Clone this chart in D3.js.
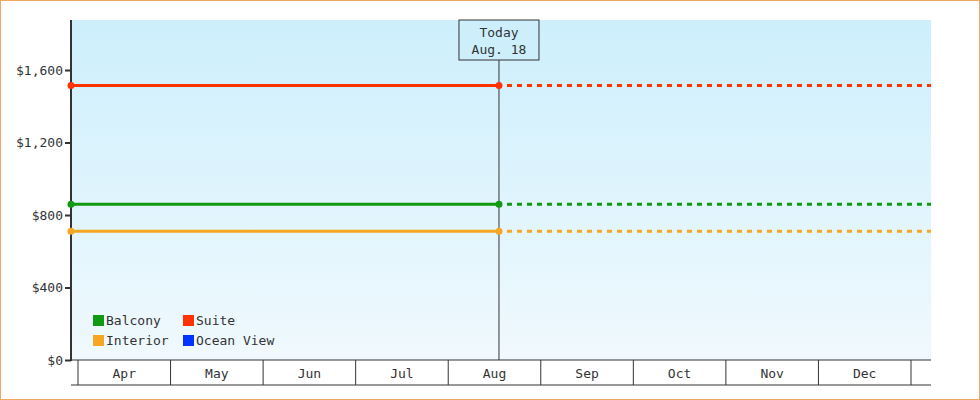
<!DOCTYPE html><html><head><script src="https://cdn.jsdelivr.net/npm/d3@7"></script>
<style>body{margin:0}svg{display:block}text{font-family:"DejaVu Sans Mono",monospace;font-size:13px;fill:#333}</style></head><body>
<svg id="c" width="980" height="400"></svg>
<script>
const months=["Apr","May","Jun","Jul","Aug","Sep","Oct","Nov","Dec"];
const seriesNames=["Balcony","Suite","Interior","Ocean View"];
const seriesColors=["#119911","#ff3300","#f5a623","#0033ff"];
const seriesValues=[860,1515,710,null];
const yTicks=[0,400,800,1200,1600];
const todayPos=4+17/31, todayLabel=["Today","Aug. 18"];
const svg=d3.select("#c");
const L=71,R=931,T=20,B=360;
const x=d3.scaleLinear().domain([0,9]).range([78,911]);
const y=d3.scaleLinear().domain([0,1876]).range([B,T]);
svg.append("rect").attr("x",0.5).attr("y",0.5).attr("width",979).attr("height",399).attr("fill","#fff").attr("stroke","#f0a860");
const g=svg.append("defs").append("linearGradient").attr("id","bg").attr("x1",0).attr("y1",0).attr("x2",0).attr("y2",1);
g.append("stop").attr("offset",0).attr("stop-color","#cdeffc");g.append("stop").attr("offset",1).attr("stop-color","#f0f9fe");
svg.append("rect").attr("x",L).attr("y",T).attr("width",R-L).attr("height",B-T).attr("fill","url(#bg)");
const ya=svg.append("g").attr("transform",`translate(${L},0)`).call(d3.axisLeft(y).tickValues(yTicks).tickFormat(d=>"$"+d3.format(",")(d)).tickSize(6).tickPadding(2));
ya.select(".domain").remove();ya.selectAll("line").attr("stroke","#333").attr("stroke-width",2);
svg.append("line").attr("x1",L).attr("x2",L).attr("y1",T).attr("y2",B+1).attr("stroke","#333").attr("stroke-width",2);
svg.append("line").attr("x1",L).attr("x2",R).attr("y1",B).attr("y2",B).attr("stroke","#333");
svg.append("line").attr("x1",L).attr("x2",R).attr("y1",385).attr("y2",385).attr("stroke","#333");
d3.range(10).forEach(i=>svg.append("line").attr("x1",x(i)).attr("x2",x(i)).attr("y1",B).attr("y2",385).attr("stroke","#333"));
months.forEach((m,i)=>svg.append("text").attr("x",(x(i)+x(i+1))/2).attr("y",378).attr("text-anchor","middle").text(m));
const tx=x(todayPos);
svg.append("line").attr("x1",tx).attr("x2",tx).attr("y1",60).attr("y2",B).attr("stroke","#333");
svg.append("rect").attr("x",tx-40).attr("y",20).attr("width",80).attr("height",40).attr("fill","#cdeffc").attr("stroke","#333");
todayLabel.forEach((t,i)=>svg.append("text").attr("x",tx).attr("y",37+i*17).attr("text-anchor","middle").text(t));
seriesValues.forEach((v,i)=>{if(v==null)return;const c=seriesColors[i];
svg.append("line").attr("x1",L).attr("x2",tx).attr("y1",y(v)).attr("y2",y(v)).attr("stroke",c).attr("stroke-width",3);
svg.append("line").attr("x1",tx+8).attr("x2",R).attr("y1",y(v)).attr("y2",y(v)).attr("stroke",c).attr("stroke-width",3).attr("stroke-dasharray","5,5");
[L,tx].forEach(px=>svg.append("circle").attr("cx",px).attr("cy",y(v)).attr("r",3.5).attr("fill",c));});
seriesNames.forEach((n,i)=>{const lx=93+(i%2)*90,ly=314+Math.floor(i/2)*20;
svg.append("rect").attr("x",lx).attr("y",ly+1).attr("width",11).attr("height",11).attr("fill",seriesColors[i]);
svg.append("text").attr("x",lx+13).attr("y",ly+11).text(n);});
</script></body></html>
